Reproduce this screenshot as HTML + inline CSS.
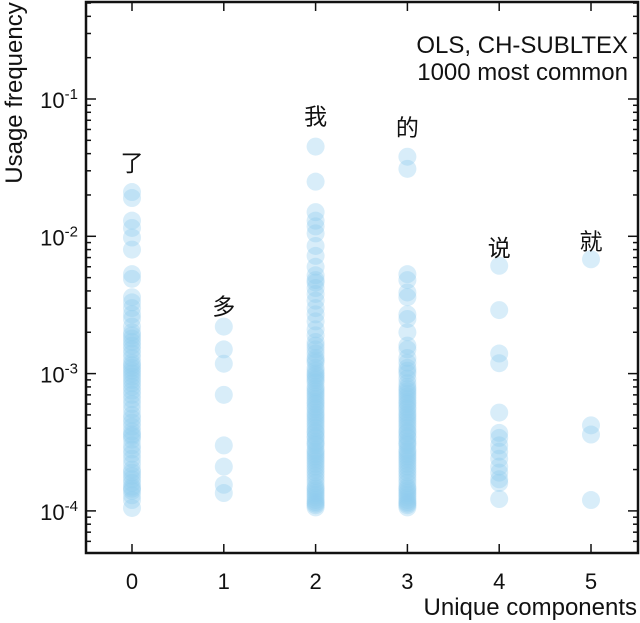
<!DOCTYPE html>
<html><head><meta charset="utf-8"><style>
html,body{margin:0;padding:0;background:#fff;width:640px;height:623px;overflow:hidden}
svg{display:block}
text{font-family:"Liberation Sans","Noto Sans CJK SC",sans-serif;fill:#111}
</style></head><body>
<svg id="chart" width="640" height="623" viewBox="0 0 640 623" xmlns="http://www.w3.org/2000/svg"></svg>
<script>
const categories=[0,1,2,3,4,5];
const xTickLabels=["0","1","2","3","4","5"];
const yTickExps=[-1,-2,-3,-4];
const labelChars=["了","多","我","的","说","就"];
const labelValues=[0.03,0.0027,0.065,0.054,0.0072,0.008];
const col0=[0.021,0.019,0.013,0.0115,0.0098,0.008,0.0053,0.0049,0.0036,0.0033,0.003,0.0027,0.0025,0.0022,0.002,0.0019,0.0018,0.0017,0.0016,0.0015,0.0014,0.0013,0.0012,0.00115,0.0011,0.00105,0.001,0.00095,0.0009,0.00085,0.0008,0.00075,0.0007,0.00065,0.0006,0.00055,0.0005,0.00047,0.00044,0.00041,0.00038,0.00036,0.00035,0.00033,0.0003,0.00028,0.00026,0.00024,0.00022,0.0002,0.00019,0.00018,0.00017,0.00016,0.00015,0.000145,0.00014,0.00013,0.00012,0.000105];
const col1=[0.0022,0.0015,0.00118,0.0007,0.0003,0.00021,0.000155,0.000135];
const col2=[0.045,0.025,0.015,0.013,0.0118,0.0105,0.0085,0.0072,0.006,0.0052,0.0048,0.0046,0.0042,0.0038,0.0034,0.003,0.0027,0.0024,0.0021,0.0019,0.0017,0.0016,0.0015,0.0014,0.0013,0.00125,0.0012,0.0011,0.00105,0.001,0.00097,0.00093,0.0009,0.00086,0.0008,0.00077,0.00074,0.00071,0.00068,0.00065,0.00062,0.0006,0.00057,0.00055,0.00052,0.0005,0.00048,0.00046,0.00044,0.00042,0.0004,0.00038,0.00037,0.00035,0.00034,0.00032,0.00031,0.0003,0.00028,0.00027,0.00026,0.00025,0.00024,0.00023,0.00022,0.00021,0.0002,0.00019,0.00018,0.00017,0.00016,0.00015,0.000145,0.00014,0.000135,0.00013,0.000125,0.00012,0.000116,0.000113,0.00011,0.000106];
const col3=[0.038,0.031,0.0053,0.0048,0.0039,0.0036,0.0027,0.0025,0.002,0.0016,0.0015,0.0013,0.0012,0.0011,0.00105,0.001,0.00092,0.00085,0.0008,0.00077,0.00074,0.00071,0.00068,0.00065,0.00062,0.0006,0.00057,0.00055,0.00052,0.0005,0.00048,0.00046,0.00044,0.00042,0.0004,0.00038,0.00037,0.00035,0.00034,0.00032,0.00031,0.0003,0.00028,0.00027,0.00026,0.00025,0.00024,0.00023,0.00022,0.00021,0.0002,0.00019,0.00018,0.00017,0.00016,0.00015,0.000145,0.00014,0.000135,0.00013,0.000125,0.00012,0.000116,0.000113,0.00011,0.000106];
const col4=[0.0061,0.0029,0.0014,0.00119,0.00052,0.00037,0.00034,0.0003,0.00027,0.00024,0.00021,0.00019,0.00017,0.00016,0.000122];
const col5=[0.0068,0.00042,0.00036,0.00012];
const series=[col0,col1,col2,col3,col4,col5];

const svg=document.getElementById('chart');
const NS='http://www.w3.org/2000/svg';
const L=86,R=638,T=2,B=553;
function xs(v){return 132+v*91.8;}
function ys(v){return 99-(Math.log10(v)+1)*137.3;}
function mk(tag,attrs,parent){const e=document.createElementNS(NS,tag);for(const k in attrs)e.setAttribute(k,attrs[k]);(parent||svg).appendChild(e);return e;}

const pts=mk('g',{});


series.forEach((col,i)=>{col.forEach(v=>{
  const c=mk('circle',{cx:xs(categories[i]),cy:ys(v),r:9,fill:'#8ecbef','fill-opacity':0.35},pts);
  
  
});});

labelChars.forEach((ch,i)=>{
  const t=mk('text',{x:xs(categories[i]),y:ys(labelValues[i]),'font-size':23,'text-anchor':'middle'});
  t.textContent=ch;
  
  
});

const frame=mk('rect',{x:L,y:T,width:R-L,height:B-T,fill:'none',stroke:'#111','stroke-width':2.5});



const ax=mk('g',{stroke:'#111','stroke-width':1.5});


categories.forEach((c,i)=>{
  const x=xs(c);
  mk('line',{x1:x,y1:B,x2:x,y2:B-9},ax);
  mk('line',{x1:x,y1:T,x2:x,y2:T+9},ax);
  const t=mk('text',{x:x,y:B+36,'font-size':22,'text-anchor':'middle',stroke:'none'});
  t.textContent=xTickLabels[i];
  
  
});
for(let e=-5;e<=0;e++){for(let m=1;m<=9;m++){
  const y=ys(m*Math.pow(10,e));
  if(y<T+1||y>B-1)continue;
  const len=m===1?10:5;
  mk('line',{x1:L,y1:y,x2:L+len,y2:y},ax);
  mk('line',{x1:R,y1:y,x2:R-len,y2:y},ax);
}}
yTickExps.forEach(e=>{
  const y=ys(Math.pow(10,e));
  const t=mk('text',{x:78,y:y+9,'font-size':22,'text-anchor':'end',stroke:'none'});
  t.innerHTML='10<tspan dy="-9" font-size="15">'+e+'</tspan>';
  
  
});

const yt=mk('text',{x:0,y:0,'font-size':24,'text-anchor':'middle',transform:'translate(22,93) rotate(-90)'});
yt.textContent='Usage frequency';


const xt=mk('text',{x:637,y:615,'font-size':24,'text-anchor':'end'});
xt.textContent='Unique components';


const a1=mk('text',{x:628,y:53,'font-size':24,'text-anchor':'end'});
a1.textContent='OLS, CH-SUBLTEX';


const a2=mk('text',{x:628,y:80,'font-size':24,'text-anchor':'end'});
a2.textContent='1000 most common';


</script>
</body></html>
